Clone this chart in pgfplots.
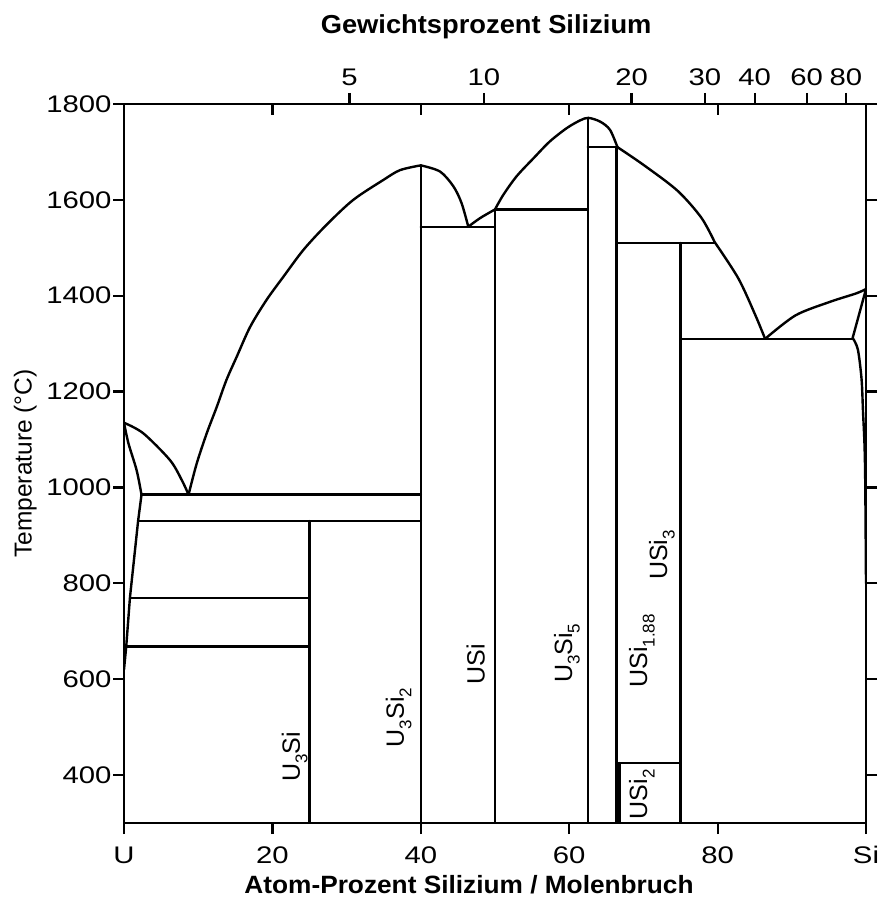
\documentclass[border=0pt]{standalone}
\usepackage{pgfplots}
\pgfplotsset{compat=1.18}
\usepackage{fontspec}
\setmainfont{Liberation Sans}
\newfontfamily\widefont[FakeStretch=1.22]{Liberation Sans}
\newfontfamily\titlefont[FakeStretch=1.05]{Liberation Sans}
\newcommand{\lab}{\widefont\fontsize{24}{28}\selectfont}
\newcommand{\phl}{\fontsize{25}{30}\selectfont}
\newcommand{\sub}[1]{\raisebox{-0.3em}{\fontsize{17}{20}\selectfont #1}}
\begin{document}
\begin{tikzpicture}
\pgfplotsset{ln/.style={black, line width=2.4pt, line join=round, line cap=round},
  lnt/.style={black, line width=1.6pt}}
\begin{axis}[
 name=main,
 width=742pt, height=719pt, scale only axis,
 xmin=0, xmax=100, ymin=300, ymax=1800,
 xtick={0,20,40,60,80,100}, xticklabels={U,20,40,60,80,Si},
 ytick={400,600,...,1800},
 xtick pos=left, ytick pos=both, yticklabel pos=left,
 tick align=outside,
 major tick length=11pt,
 tick style={black, line width=2.2pt},
 axis line style={line width=2.8pt},
 ticklabel style={font=\lab},
 xticklabel style={yshift=-9pt},
 yticklabel style={xshift=2pt},
 /pgf/number format/assume math mode=true,
 /pgf/number format/1000 sep={},
 xlabel={Atom-Prozent Silizium / Molenbruch},
 ylabel={Temperature (°C)},
 every axis x label/.style={at={(axis description cs:0.465,-0.086)}, anchor=center, font=\titlefont\fontsize{25}{30}\selectfont\bfseries},
 every axis y label/.style={at={(axis description cs:-0.133,0.5)}, anchor=center, rotate=90, font=\fontsize{24.5}{29}\selectfont},
]
% U-rich side
\addplot[ln, smooth] coordinates {(0,1135)(2.6,1113)(6.2,1057)(7.8,1015)(8.7,985)};
\addplot[ln, smooth] coordinates {(0,1135)(0.6,1092)(1.7,1036)(2.36,985)};
\addplot[ln] coordinates {(2.36,985)(1.9,930)(0.8,770)(0.3,668)(0,620)};
% U3Si2 liquidus
\addplot[ln, smooth] coordinates {(8.7,985)(9.8,1050)(11.15,1113)(12.5,1168)(13.8,1224)(15.2,1273)(17,1335)(19.2,1391)(21.5,1440)(24.2,1496)(27.3,1548)(30.9,1600)(35,1642)(37.2,1662)(40,1672)};
\addplot[ln, smooth] coordinates {(40,1672)(42.6,1659)(44.4,1628)(45.5,1593)(46.4,1544)};
\addplot[ln, smooth] coordinates {(46.4,1544)(48,1562)(50,1580)};
% U3Si5
\addplot[ln, smooth] coordinates {(50,1580)(51.1,1610)(52.9,1649)(55.2,1687)(57.4,1722)(59.7,1750)(61.5,1766)(62.6,1771)(64.2,1763)(65.5,1746)(66.5,1710)};
% USi2 / USi3 liquidus
\addplot[ln, smooth] coordinates {(66.5,1710)(70.1,1672)(74.6,1619)(77.8,1563)(79.6,1512)};
\addplot[ln, smooth] coordinates {(79.6,1512)(82.8,1436)(85.1,1359)(86.4,1310)};
% Si liquidus and solvus
\addplot[ln, smooth] coordinates {(86.4,1310)(90.5,1359)(95.1,1387)(98.7,1405)(100,1414)};
\addplot[ln] coordinates {(100,1414)(98.2,1312)};
\addplot[ln, smooth] coordinates {(98.2,1312)(98.9,1288)(99.4,1226)(99.6,1157)(99.8,1088)(99.9,1006)(100,800)};
% horizontals
\addplot[ln] coordinates {(2.36,985)(40,985)};
\addplot[ln] coordinates {(1.9,930)(40,930)};
\addplot[lnt] coordinates {(0.8,770)(25,770)};
\addplot[ln] coordinates {(0.3,668)(25,668)};
\addplot[ln] coordinates {(40,1544)(50,1544)};
\addplot[ln] coordinates {(50,1580)(62.5,1580)};
\addplot[ln] coordinates {(62.5,1710)(66.5,1710)};
\addplot[lnt] coordinates {(66.4,1510)(79.6,1510)};
\addplot[ln] coordinates {(66.4,425)(75,425)};
\addplot[ln] coordinates {(75,1310)(98.2,1310)};
% verticals
\addplot[ln] coordinates {(25,930)(25,300)};
\addplot[ln] coordinates {(40,1672)(40,300)};
\addplot[ln] coordinates {(50,1580)(50,300)};
\addplot[ln] coordinates {(62.5,1771)(62.5,300)};
\addplot[ln] coordinates {(66.4,1710)(66.4,300)};
\addplot[ln] coordinates {(66.8,425)(66.8,300)};
\addplot[ln] coordinates {(75,1510)(75,300)};
% phase labels
\node[rotate=90, font=\phl] at (axis cs:23,438) {U\sub{3}Si};
\node[rotate=90, font=\phl] at (axis cs:37,520) {U\sub{3}Si\sub{2}};
\node[rotate=90, font=\phl] at (axis cs:47.4,631) {USi};
\node[rotate=90, font=\phl] at (axis cs:59.7,654) {U\sub{3}Si\sub{5}};
\node[rotate=90, font=\phl] at (axis cs:69.8,659) {USi\sub{1.88}};
\node[rotate=90, font=\phl] at (axis cs:72.5,859) {USi\sub{3}};
\node[rotate=90, font=\phl] at (axis cs:69.8,360) {USi\sub{2}};
\end{axis}
% top inward ticks
\begin{axis}[
 width=742pt, height=719pt, scale only axis,
 xmin=0, xmax=100, ymin=300, ymax=1800,
 hide y axis, axis x line*=top,
 xtick={20,40,60,80}, xticklabels={},
 tick align=inside, major tick length=11pt,
 tick style={black, line width=2.2pt},
 axis line style={line width=2.8pt},
]
\addplot[draw=none] coordinates {(0,300)};
\end{axis}
% top weight-percent axis
\begin{axis}[
 width=742pt, height=719pt, scale only axis,
 xmin=0, xmax=100, ymin=300, ymax=1800,
 hide y axis, axis x line*=top,
 xtick={30.4,48.5,68.4,78.3,85.0,92.0,97.3},
 xticklabels={5,10,20,30,40,60,80},
 tick align=outside, major tick length=11pt,
 tick style={black, line width=2.2pt},
 axis line style={line width=2.8pt},
 ticklabel style={font=\lab},
 xticklabel style={yshift=4pt},
 xlabel={Gewichtsprozent Silizium},
 every axis x label/.style={at={(axis description cs:0.488,1.107)}, anchor=center, font=\titlefont\fontsize{26}{31}\selectfont\bfseries},
]
\addplot[draw=none] coordinates {(0,300)};
\end{axis}
\pgfresetboundingbox
\path[use as bounding box] ([xshift=-124pt,yshift=-81pt]main.south west) rectangle ([xshift=15pt,yshift=104pt]main.north east);
\end{tikzpicture}
\end{document}
